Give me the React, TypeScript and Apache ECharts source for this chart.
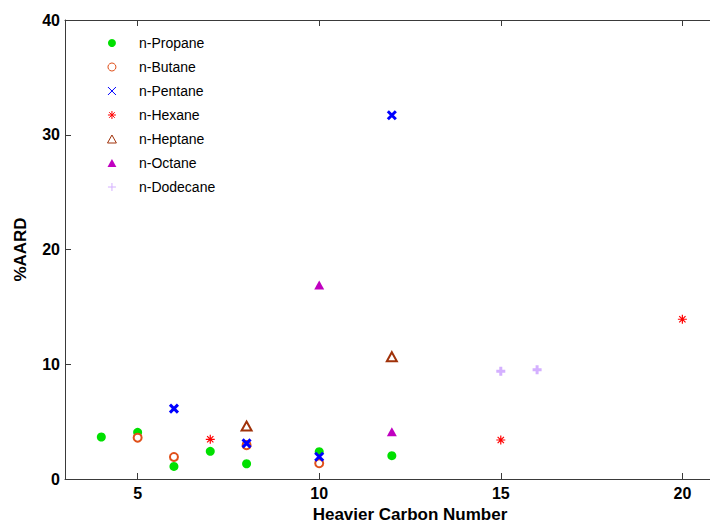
import React, { useEffect, useRef } from "react";
import * as echarts from "echarts";

const seriesNames = ["n-Propane", "n-Butane", "n-Pentane", "n-Hexane", "n-Heptane", "n-Octane", "n-Dodecane"];

const propaneX = [4, 5, 6, 7, 8, 10, 12];
const propaneY = [3.66, 4.07, 1.1, 2.41, 1.33, 2.38, 2.03];
const butaneX = [5, 6, 8, 10];
const butaneY = [3.6, 1.92, 2.95, 1.37];
const pentaneX = [6, 8, 10, 12];
const pentaneY = [6.13, 3.1, 1.94, 31.7];
const hexaneX = [7, 15, 20];
const hexaneY = [3.46, 3.4, 13.92];
const heptaneX = [8, 12];
const heptaneY = [4.62, 10.66];
const octaneX = [10, 12];
const octaneY = [16.9, 4.12];
const dodecaneX = [15, 16];
const dodecaneY = [9.38, 9.52];

const xTicks = [5, 10, 15, 20];
const yTicks = [0, 10, 20, 30, 40];

const xTitle = "Heavier Carbon Number";
const yTitle = "%AARD";

const FONT = "'Liberation Sans', Arial, Helvetica, sans-serif";

const pair = (xs: number[], ys: number[]) => xs.map((x, i) => [x, ys[i]]);

const X_PATH = "path://M0 0L10 10M10 0L0 10";
const STAR_PATH = "path://M5 0L5 10M0 5L10 5M1.5 1.5L8.5 8.5M8.5 1.5L1.5 8.5";
const PLUS_PATH = "path://M5 0L5 10M0 5L10 5";
const TRI_PATH = "path://M5 0L10 9L0 9Z";

export default function App() {
  const ref = useRef<HTMLDivElement>(null);
  useEffect(() => {
    if (!ref.current) return;
    const chart = echarts.init(ref.current, null, { renderer: "svg" });

    const styles = [
      { symbol: "circle", size: 9, fill: "#00e000", border: "#00e000", bw: 0, lbw: 0 },
      { symbol: "circle", size: 8, fill: "#ffffff", border: "#e0501a", bw: 2, lbw: 1 },
      { symbol: X_PATH, size: 8, fill: "#0000ff", border: "#0000ff", bw: 3, lbw: 1 },
      { symbol: STAR_PATH, size: 9, fill: "#ff0000", border: "#ff0000", bw: 1.2, lbw: 1 },
      { symbol: TRI_PATH, size: 10, fill: "#ffffff", border: "#a0320a", bw: 2, lbw: 1 },
      { symbol: TRI_PATH, size: 10, fill: "#c000c0", border: "#c000c0", bw: 0, lbw: 0 },
      { symbol: PLUS_PATH, size: 9, fill: "#d4b0ff", border: "#d4b0ff", bw: 3, lbw: 1 },
    ];
    const datasets = [
      pair(propaneX, propaneY),
      pair(butaneX, butaneY),
      pair(pentaneX, pentaneY),
      pair(hexaneX, hexaneY),
      pair(heptaneX, heptaneY),
      pair(octaneX, octaneY),
      pair(dodecaneX, dodecaneY),
    ];

    const axisLineStyle = { color: "#3a3a3a", width: 1 };
    const labelStyle = { color: "#000", fontSize: 16, fontWeight: "bold" as const, fontFamily: FONT };

    chart.setOption({
      animation: false,
      backgroundColor: "#ffffff",
      grid: { left: 65, top: 20, right: -45, bottom: 44, outerBoundsMode: "none", containLabel: false },
      legend: {
        orient: "vertical",
        left: 107,
        top: 36,
        padding: 0,
        itemWidth: 44,
        itemHeight: 8,
        itemGap: 10,
        symbolKeepAspect: true,
        selectedMode: false,
        textStyle: { fontSize: 14, lineHeight: 14, color: "#000", fontFamily: FONT },
        data: seriesNames.map((n, i) => ({
          name: n,
          icon: styles[i].symbol,
          itemStyle: { borderWidth: styles[i].lbw },
        })),
      },
      xAxis: [
        {
          type: "value",
          min: 3,
          max: 22,
          position: "bottom",
          name: xTitle,
          nameLocation: "middle",
          nameGap: 27,
          nameTextStyle: { color: "#000", fontSize: 17, lineHeight: 16, fontWeight: "bold", fontFamily: FONT },
          axisLine: { show: true, onZero: false, lineStyle: axisLineStyle },
          axisTick: { show: true, inside: true, length: 6, customValues: xTicks, lineStyle: axisLineStyle },
          axisLabel: { ...labelStyle, margin: 6, customValues: xTicks },
          splitLine: { show: false },
        },
        {
          type: "value",
          min: 3,
          max: 22,
          position: "top",
          axisLine: { show: true, onZero: false, lineStyle: axisLineStyle },
          axisTick: { show: true, inside: true, length: 6, customValues: xTicks, lineStyle: axisLineStyle },
          axisLabel: { show: false },
          splitLine: { show: false },
        },
      ],
      yAxis: {
        type: "value",
        min: 0,
        max: 40,
        interval: 10,
        name: yTitle,
        nameLocation: "middle",
        nameGap: 36,
        nameRotate: 90,
        nameTextStyle: { color: "#000", fontSize: 17, fontWeight: "bold", fontFamily: FONT },
        axisLine: { show: true, lineStyle: axisLineStyle },
        axisTick: { show: true, inside: true, length: 6, lineStyle: axisLineStyle },
        axisLabel: { ...labelStyle, margin: 5, formatter: (v: number) => (yTicks.includes(v) ? String(v) : "") },
        splitLine: { show: false },
      },
      series: seriesNames.map((n, i) => ({
        name: n,
        type: "scatter",
        xAxisIndex: 0,
        symbol: styles[i].symbol,
        symbolSize: styles[i].size,
        symbolKeepAspect: true,
        itemStyle: {
          color: styles[i].fill,
          borderColor: styles[i].border,
          borderWidth: styles[i].bw,
          opacity: 1,
        },
        emphasis: { disabled: true },
        data: datasets[i],
      })),
    });
    return () => chart.dispose();
  }, []);
  return (
    <div style={{ position: "absolute", left: 0, top: 0, width: 710, height: 523, overflow: "hidden" }}>
      <div ref={ref} style={{ width: 710, height: 523 }} />
    </div>
  );
}
